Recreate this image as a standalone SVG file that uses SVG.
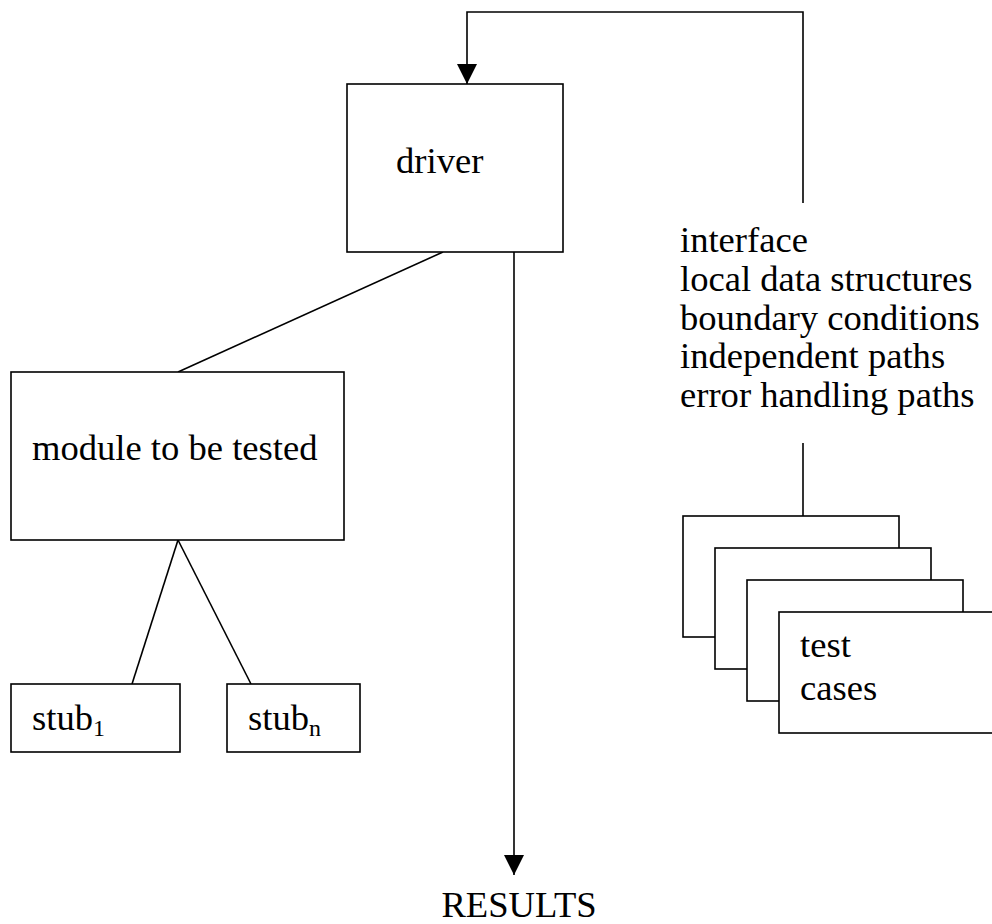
<svg xmlns="http://www.w3.org/2000/svg" width="992" height="924" viewBox="0 0 992 924">
  <style>
    .box { fill: #ffffff; stroke: #000000; stroke-width: 1.6; }
    .wire { fill: none; stroke: #000000; stroke-width: 1.6; }
    .lbl { font-family: "Liberation Serif", Tinos, "Times New Roman", Times, "DejaVu Serif", serif; font-size: 36.6px; fill: #000000; }
    .sub { font-size: 24px; }
  </style>
  <defs>
    <marker id="arrow" markerUnits="userSpaceOnUse" markerWidth="20" markerHeight="22" refX="20" refY="10" orient="auto">
      <path d="M0,0 L20,10 L0,20 Z" fill="#000000"/>
    </marker>
  </defs>
  <rect width="992" height="924" fill="#ffffff"/>

  <!-- connectors -->
  <g id="connectors">
    <!-- feedback from checklist back into driver -->
    <polyline class="wire" points="803,203 803,12 467,12 467,84" marker-end="url(#arrow)"/>
    <!-- driver to module -->
    <line class="wire" x1="443" y1="252" x2="178" y2="372"/>
    <!-- driver output to results -->
    <line class="wire" x1="514" y1="252" x2="514" y2="875" marker-end="url(#arrow)"/>
    <!-- module to stubs -->
    <line class="wire" x1="178" y1="540" x2="132" y2="684"/>
    <line class="wire" x1="178" y1="540" x2="251" y2="684"/>
    <!-- checklist to test cases -->
    <line class="wire" x1="803" y1="443" x2="803" y2="516"/>
  </g>

  <g id="driver">
    <rect class="box" x="347" y="84" width="216" height="168"/>
    <text class="lbl" x="396" y="173">driver</text>
  </g>

  <g id="module">
    <rect class="box" x="11" y="372" width="333" height="168"/>
    <text class="lbl" x="32" y="460">module to be tested</text>
  </g>

  <g id="stub1">
    <rect class="box" x="11" y="684" width="169" height="68"/>
    <text class="lbl" x="32" y="730">stub<tspan class="sub" dy="6">1</tspan></text>
  </g>

  <g id="stubn">
    <rect class="box" x="227" y="684" width="133" height="68"/>
    <text class="lbl" x="248" y="730">stub<tspan class="sub" dy="6">n</tspan></text>
  </g>

  <g id="checklist">
    <text class="lbl" x="680" y="252">interface</text>
    <text class="lbl" x="680" y="291">local data structures</text>
    <text class="lbl" x="680" y="330">boundary conditions</text>
    <text class="lbl" x="680" y="368">independent paths</text>
    <text class="lbl" x="680" y="407">error handling paths</text>
  </g>

  <g id="test-cases">
    <rect class="box" x="683" y="516" width="216" height="121"/>
    <rect class="box" x="715" y="548" width="216" height="121"/>
    <rect class="box" x="747" y="580" width="216" height="121"/>
    <rect class="box" x="779" y="612" width="216" height="121"/>
    <text class="lbl" x="800" y="657">test</text>
    <text class="lbl" x="800" y="700">cases</text>
  </g>

  <g id="results">
    <text class="lbl" x="519" y="917" text-anchor="middle">RESULTS</text>
  </g>
</svg>
